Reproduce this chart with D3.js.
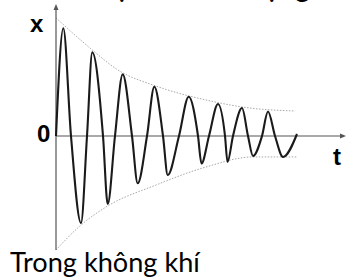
<!DOCTYPE html>
<html><head><meta charset="utf-8">
<script src="https://cdn.jsdelivr.net/npm/d3@7"></script>
<style>body{margin:0;background:#fff}svg{display:block}</style>
</head><body>
<script>
// Damped oscillation: key points (time, displacement)
const waveT = [0,0.252,0.517,0.862,1.069,1.252,1.621,1.783,2.034,2.300,2.621,2.817,3.138,3.390,3.690,3.852,4.241,4.576,4.897,5.017,5.276,5.586,5.828,5.914,6.103,6.414,6.621,6.793,7.103,7.310,7.552,7.828,8.310];
const waveX = [0,0.921,0,-0.744,0,0.715,0,-0.581,0,0.527,0,-0.404,0,0.421,0,-0.333,0,0.336,0,-0.235,0,0.274,0,-0.222,0,0.239,0,-0.171,0,0.209,0,-0.179,0.017];
// Envelopes (dotted)
const upperT = [0,1.172,2.138,3.448,5.172,6.690,8.241];
const upperX = [1.009,0.752,0.564,0.427,0.308,0.239,0.214];
const lowerT = [0,0.862,1.724,3.448,5.172,6.793,8.310];
const lowerX = [-0.974,-0.761,-0.607,-0.419,-0.265,-0.179,-0.179];
// Labels
const yAxisLabel = "x";
const xAxisLabel = "t";
const originLabel = "0";
const caption = "Trong không khí";
const topTextA = "Vật dao";
const topTextB = "động";

const W = 347, H = 277;
const svg = d3.select("body").append("svg").attr("width", W).attr("height", H);

const xs = d3.scaleLinear().domain([0, 10]).range([56, 346]);
const ys = d3.scaleLinear().domain([-1, 1]).range([253, 19]);

// envelopes
const env = d3.line().x(d => xs(d[0])).y(d => ys(d[1])).curve(d3.curveMonotoneX);
[[upperT, upperX], [lowerT, lowerX]].forEach(([ts, vs]) => {
  svg.append("path").datum(ts.map((t, i) => [t, vs[i]]))
    .attr("d", env).attr("fill", "none")
    .attr("stroke", "#a8a8a8").attr("stroke-width", 1)
    .attr("stroke-dasharray", "1.5,1.5");
});

// axes
const axisColor = "#555";
svg.append("line").attr("x1", xs(0)).attr("x2", xs(0)).attr("y1", 250).attr("y2", 7)
  .attr("stroke", axisColor).attr("stroke-width", 1.2);
svg.append("path").attr("d", `M${xs(0)-2.5},10 L${xs(0)},4 L${xs(0)+2.5},10 Z`).attr("fill", axisColor);
svg.append("line").attr("x1", xs(0)).attr("x2", 342).attr("y1", ys(0)).attr("y2", ys(0))
  .attr("stroke", axisColor).attr("stroke-width", 1.2);
svg.append("path").attr("d", `M340,${ys(0)-2.5} L346,${ys(0)} L340,${ys(0)+2.5} Z`).attr("fill", axisColor);

// wave
const wave = d3.line().x(d => xs(d[0])).y(d => ys(d[1])).curve(d3.curveMonotoneX);
svg.append("path").datum(waveT.map((t, i) => [t, waveX[i]]))
  .attr("d", wave).attr("fill", "none").attr("stroke", "#1a1a1a")
  .attr("stroke-width", 2.1).attr("stroke-linejoin", "round");

// labels
const lab = (txt, px, py) => svg.append("text").text(txt).attr("x", px).attr("y", py)
  .attr("font-family", "Liberation Sans, Arial, sans-serif").attr("font-weight", "bold")
  .attr("font-size", 24).attr("fill", "#000");
lab(yAxisLabel, 30, 32);
lab(originLabel, 37, 142);
lab(xAxisLabel, 333, 165);

const cap = svg.append("text").text(caption).attr("x", 10).attr("y", 272)
  .attr("font-family", "Lato, 'Open Sans', sans-serif").attr("font-size", 26).attr("fill", "#000");
const cw = cap.node().getComputedTextLength();
cap.attr("font-size", 26 * 190 / cw);

const topText = svg.append("text").attr("y", -3)
  .attr("font-family", "Lato, 'Open Sans', sans-serif").attr("font-size", 28).attr("fill", "#000");
topText.append("tspan").attr("x", 98).text(topTextA);
topText.append("tspan").attr("x", 248).text(topTextB);
</script>
</body></html>
